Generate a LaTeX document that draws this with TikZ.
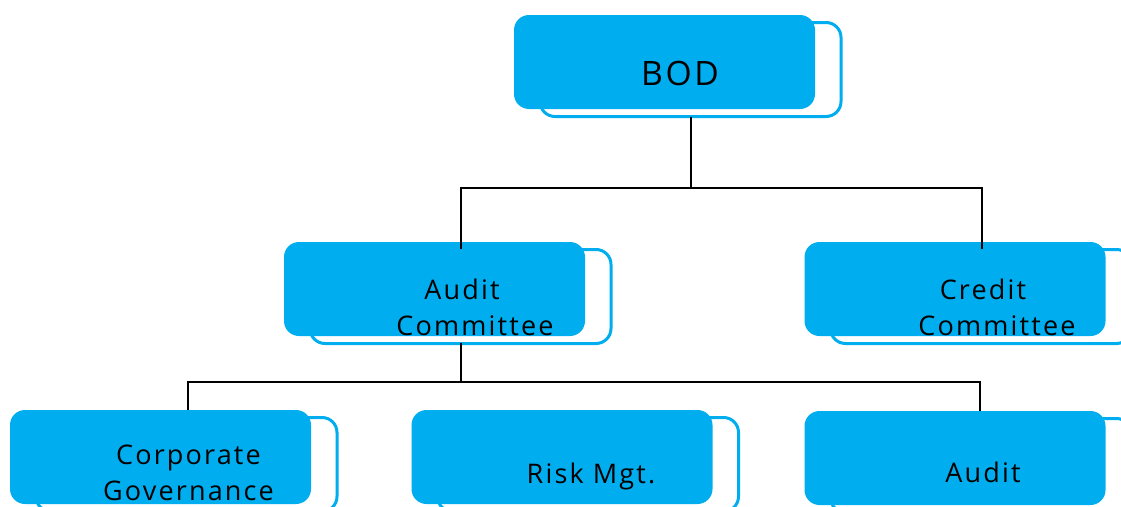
\documentclass[tikz,border=0pt]{standalone}
\usepackage{fontspec}
\setmainfont{Open Sans}[LetterSpace=8.0]
\usetikzlibrary{shadows}
\definecolor{boxblue}{RGB}{0,174,239}
\begin{document}
\begin{tikzpicture}[x=1pt,y=-1pt,
  orgbox/.style={rectangle, rounded corners=15pt, fill=boxblue,
    minimum width=301pt, minimum height=94pt, inner sep=0pt,
    copy shadow={shadow xshift=26pt, shadow yshift=-7.5pt, fill=white,
      draw=boxblue, line width=3pt}},
  lbl/.style={text=black, align=center, inner sep=0pt,
    font=\fontsize{27}{36}\selectfont},
  conn/.style={draw=black, line width=2pt}]
\useasboundingbox (0,0) rectangle (1121,506);
% boxes
\node[orgbox] (bod) at (664.5,62) {};
\node[orgbox] (ac) at (434.5,289) {};
\node[orgbox] (cc) at (955,289) {};
\node[orgbox] (cg) at (160.5,457) {};
\node[orgbox] (rm) at (562,457) {};
\node[orgbox] (au) at (955,458) {};
% labels
\node[lbl, font=\fontsize{33.6}{40}\selectfont, anchor=base] (tbod) at (680,85) {BOD};
\node[lbl] (tac) at (475,307) {Audit\rule{26pt}{0pt}\\Committee};
\node[lbl] (tcc) at (997,307) {Credit\rule{28pt}{0pt}\\Committee};
\node[lbl] (tcg) at (188.5,473) {Corporate\\Governance};
\node[lbl, anchor=base] (trm) at (591,483) {Risk Mgt.};
\node[lbl, anchor=base] (tau) at (983,482) {Audit};
% connectors
\coordinate (t1) at (690.5,188);
\coordinate (t2) at (460.5,382);
\draw[conn] ([xshift=26pt,yshift=-8pt]bod.south) -- (t1);
\draw[conn] ([xshift=26pt,yshift=-7pt]ac.north) |- (t1) -| ([xshift=27pt,yshift=-7pt]cc.north);
\draw[conn] ([xshift=26pt,yshift=-7pt]ac.south) -- (t2);
\draw[conn] ([xshift=27.5pt]cg.north) |- (t2) -| ([xshift=25pt]au.north);
\end{tikzpicture}
\end{document}
